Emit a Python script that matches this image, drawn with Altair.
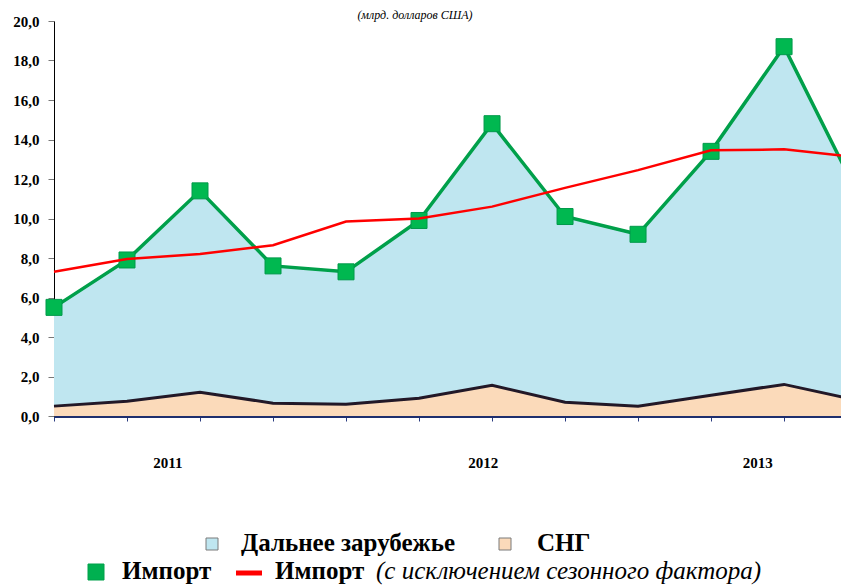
import altair as alt
import pandas as pd

# ---- data (billion US dollars), quarters 2011 Q1 .. 2013 Q4 ----
quarter_index = [0, 1, 2, 3, 4, 5, 6, 7, 8, 9, 10, 11]
import_total = [5.5, 7.9, 11.4, 7.6, 7.3, 9.9, 14.8, 10.1, 9.2, 13.4, 18.7, 11.3]
import_cis = [0.5, 0.75, 1.2, 0.65, 0.6, 0.9, 1.55, 0.7, 0.5, 1.05, 1.6, 0.8]
import_seasonal = [7.3, 7.95, 8.2, 8.65, 9.85, 10.0, 10.6, 11.55, 12.45, 13.45, 13.5, 13.1]

year_labels = ["2011", "2012", "2013"]
year_label_pos = [1.56, 5.88, 9.64]
y_ticks = [0, 2, 4, 6, 8, 10, 12, 14, 16, 18, 20]
x_ticks = [0, 1, 2, 3, 4, 5, 6, 7, 8, 9, 10]

title_text = "(млрд. долларов США)"
legend_far = "Дальнее зарубежье"
legend_cis = "СНГ"
legend_import = "Импорт"
legend_seasonal_note = "(с исключением сезонного фактора)"

FONT = "Liberation Serif"
W, H = 787, 395

df = pd.DataFrame({
    "q": quarter_index,
    "total": import_total,
    "cis": import_cis,
    "seasonal": import_seasonal,
})
years_df = pd.DataFrame({"year": year_labels, "pos": year_label_pos})
one = pd.DataFrame({"k": [0]})

xs = alt.Scale(domain=[0, 10.78], nice=False, zero=False)
ys = alt.Scale(domain=[0, 20], nice=False)

ax_x = alt.Axis(values=x_ticks, labels=False, title=None, grid=False,
                domainColor="#1F2F6E", domainWidth=3, tickColor="#2B3C80",
                tickSize=5, tickWidth=1)
ax_y = alt.Axis(values=y_ticks, title=None, grid=False,
                labelExpr="replace(format(datum.value, '.1f'), '.', ',')",
                labelFont=FONT, labelFontSize=15, labelFontWeight="bold",
                labelColor="#000000", labelPadding=9,
                domainColor="#000000", domainWidth=1,
                tickColor="#777777", tickSize=6, tickWidth=1)

X = lambda f: alt.X(f"{f}:Q", scale=xs, axis=ax_x)
Y = lambda f: alt.Y(f"{f}:Q", scale=ys, axis=ax_y)

base = alt.Chart(df)

far_area = base.mark_area(color="#BFE6F0", opacity=1).encode(x=X("q"), y=Y("total"))
far_edge = base.mark_line(color="#2A1E33", strokeWidth=2, opacity=0.5).encode(x=X("q"), y=Y("total"))
cis_area = base.mark_area(color="#FBDABA", opacity=1).encode(x=X("q"), y=Y("cis"))
cis_edge = base.mark_line(color="#221827", strokeWidth=3).encode(x=X("q"), y=Y("cis"))
green_line = base.mark_line(color="#00A04A", strokeWidth=3.5).encode(x=X("q"), y=Y("total"))
green_pts = base.mark_square(size=256, color="#00B850", stroke="#00994A",
                             strokeWidth=1, opacity=1).encode(x=X("q"), y=Y("total"))
red_line = base.mark_line(color="#FF0000", strokeWidth=2.5).encode(x=X("q"), y=Y("seasonal"))

years = alt.Chart(years_df).mark_text(
    font=FONT, fontSize=15, fontWeight="bold", color="#000000", baseline="middle"
).encode(x=X("pos"), y=alt.value(442), text="year:N")


def txt(text, x, y, size=25, weight="bold", style="normal", align="left"):
    return alt.Chart(one).mark_text(
        text=text, font=FONT, fontSize=size, fontWeight=weight, fontStyle=style,
        align=align, baseline="alphabetic", color="#000000"
    ).encode(x=alt.value(x), y=alt.value(y))


def sq(x, y, size, fill, stroke):
    return alt.Chart(one).mark_square(size=size, color=fill, stroke=stroke,
                                      strokeWidth=1, opacity=1).encode(
        x=alt.value(x), y=alt.value(y))


title = txt(title_text, 361, -2, size=12, weight="normal", style="italic", align="center")

R1, R2 = 530, 558
legend = [
    sq(158, R1 - 7, 144, "#BFE6F0", "#7A7A7A"),
    txt(legend_far, 187, R1),
    sq(451, R1 - 7, 144, "#FBDABA", "#7A7A7A"),
    txt(legend_cis, 483, R1),
    sq(42, R2 - 7, 256, "#00B050", "#00A04A"),
    txt(legend_import, 68, R2),
    alt.Chart(one).mark_rule(color="#FF0000", strokeWidth=5).encode(
        x=alt.value(182), x2=alt.value(208), y=alt.value(R2 - 6)),
    txt(legend_import, 221, R2),
    txt(legend_seasonal_note, 322, R2, weight="normal", style="italic"),
]

chart = alt.layer(
    far_area, far_edge, cis_area, cis_edge, green_line, green_pts, red_line,
    years, title, *legend
).properties(
    width=W, height=H,
    autosize=alt.AutoSizeParams(type="none"),
    padding={"left": 46, "top": 13, "right": 0, "bottom": 170},
).configure(background="#FFFFFF").configure_view(stroke=None)

chart.save("out.html", embed_options={"renderer": "svg", "actions": False})
